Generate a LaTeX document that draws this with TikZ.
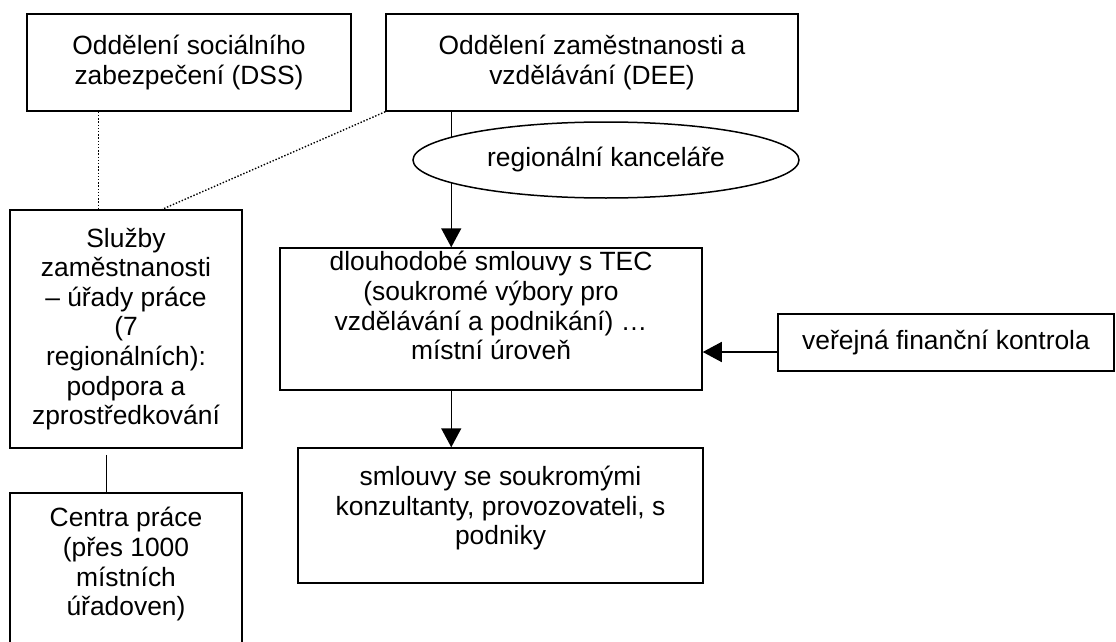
\documentclass[tikz,border=0pt]{standalone}
\usepackage{fontspec}
\setmainfont{Liberation Sans}
\usetikzlibrary{arrows.meta,shapes.geometric}
\begin{document}
\begin{tikzpicture}[x=1pt,y=-1pt,
  font=\fontsize{26.4}{29.6}\selectfont,
  box/.style={draw, line width=1.5pt, rectangle, align=center, inner sep=0pt},
  conn/.style={line width=1.5pt},
  arr/.style={line width=1.5pt, -{Triangle[length=19pt,width=20pt]}},
  dots/.style={line width=1.4pt, dash pattern=on 1.4pt off 1.8pt}]
\useasboundingbox (0,0) rectangle (1116,642);
\clip (0,0) rectangle (1116,642);

\node[box, minimum width=324pt, minimum height=97pt] (dss) at (189,62.5)
  {Oddělení sociálního\\zabezpečení (DSS)};
\node[box, minimum width=412pt, minimum height=97pt] (dee) at (592,62.5)
  {Oddělení zaměstnanosti a\\vzdělávání (DEE)};
\node[box, minimum width=422pt, minimum height=142pt, text depth=27pt] (tec) at (491,319)
  {dlouhodobé smlouvy s TEC\\(soukromé výbory pro\\vzdělávání a podnikání) …\\místní úroveň};
\node[box, minimum width=405pt, minimum height=135pt, text depth=20pt] (sml) at (500.5,515.5)
  {smlouvy se soukromými\\konzultanty, provozovateli, s\\podniky};
\node[box, minimum width=336pt, minimum height=57pt] (ver) at (946,342.5)
  {veřejná finanční kontrola};
\node[box, minimum width=232pt, minimum height=238pt] (sluz) at (126,329)
  {Služby\\zaměstnanosti\\– úřady práce\\(7\\regionálních):\\podpora a\\zprostředkování};
\node[box, minimum width=232pt, minimum height=167pt, text depth=30pt] (cen) at (126,576.5)
  {Centra práce\\(přes 1000\\místních\\úřadoven)};

\draw[dots] ([xshift=72pt]dss.south west) -- ([xshift=89pt]sluz.north west);
\draw[dots] (dee.south west) -- ([xshift=153pt]sluz.north west);
\draw[conn] ([xshift=97pt,yshift=-6pt]sluz.south west) -- ([xshift=97pt]cen.north west);
\draw[arr] ([xshift=66pt]dee.south west) -- ([xshift=172pt]tec.north west);
\node[draw, ellipse, line width=1.5pt, fill=white, minimum width=386pt, minimum height=76pt, inner sep=0pt] (ell) at (606,160)
  {regionální kanceláře};
\draw[arr] ([xshift=172pt]tec.south west) -- ([xshift=154pt]sml.north west);
\draw[arr] ([yshift=-9.5pt]ver.west) -- ([yshift=-9.5pt]ver.west -| tec.east);
\end{tikzpicture}
\end{document}
